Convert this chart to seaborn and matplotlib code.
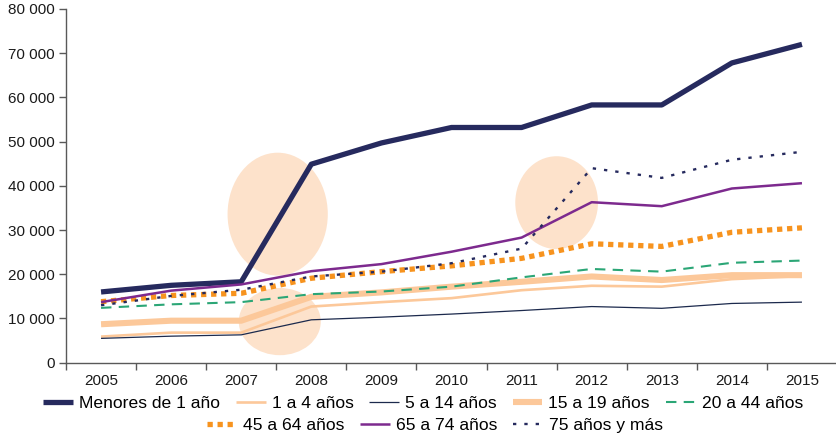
import matplotlib
matplotlib.use("Agg")
import matplotlib.pyplot as plt
import numpy as np
import pandas as pd
import seaborn as sns
from matplotlib.patches import Ellipse
from matplotlib.ticker import FixedLocator, FuncFormatter

years = list(range(2005, 2016))

menores_1 = [16000, 17500, 18300, 44900, 49700, 53200, 53200, 58300, 58300, 67800, 72000]
de_1_a_4 = [5900, 6800, 6800, 12700, 13700, 14600, 16400, 17400, 17200, 18900, 19600]
de_5_a_14 = [5500, 6000, 6300, 9700, 10300, 11000, 11800, 12700, 12300, 13400, 13700]
de_15_a_19 = [8700, 9500, 9500, 14900, 15900, 17200, 18300, 19500, 18700, 19800, 19800]
de_20_a_44 = [12400, 13200, 13700, 15500, 16100, 17200, 19300, 21200, 20600, 22600, 23100]
de_45_a_64 = [13800, 15200, 15700, 19100, 20600, 21900, 23600, 26900, 26300, 29500, 30500]
de_65_a_74 = [13700, 16300, 17700, 20700, 22300, 25100, 28300, 36300, 35400, 39400, 40600]
mas_75 = [13000, 15100, 16500, 19500, 20600, 22500, 25800, 44000, 41800, 45900, 47700]

series_names = [
    "Menores de 1 año", "1 a 4 años", "5 a 14 años", "15 a 19 años",
    "20 a 44 años", "45 a 64 años", "65 a 74 años", "75 años y más",
]
series_values = [
    menores_1, de_1_a_4, de_5_a_14, de_15_a_19,
    de_20_a_44, de_45_a_64, de_65_a_74, mas_75,
]

df = pd.DataFrame({"year": years})
for name, vals in zip(series_names, series_values):
    df[name] = vals

styles = {
    "Menores de 1 año": dict(color="#262a5e", lw=3.8, ls="-"),
    "1 a 4 años": dict(color="#fcc89a", lw=1.9, ls="-"),
    "5 a 14 años": dict(color="#1c2a4d", lw=0.9, ls="-"),
    "15 a 19 años": dict(color="#fcc89a", lw=4.4, ls="-"),
    "20 a 44 años": dict(color="#2ba676", lw=1.5, ls=(0, (5, 3.5))),
    "45 a 64 años": dict(color="#f7931e", lw=3.8, ls=(0, (1, 0.9))),
    "65 a 74 años": dict(color="#7d2a8e", lw=1.8, ls="-"),
    "75 años y más": dict(color="#262a5e", lw=1.7, ls=(0, (1.4, 3.4))),
}

plt.rcParams["font.family"] = ["Liberation Sans", "DejaVu Sans"]

fig = plt.figure(figsize=(8.37, 4.38), dpi=100)
ax = fig.add_axes([66 / 837, 1 - 362.7 / 438, 771 / 837, (362.7 - 9) / 438])

# highlight ellipses behind the lines
ell_color = "#fde2cb"
for (cx, cy, w, h) in [(2007.52, 33600, 1.43, 27800),
                       (2007.55, 9300, 1.17, 15200),
                       (2011.50, 36200, 1.18, 21000)]:
    ax.add_patch(Ellipse((cx, cy), w, h, facecolor=ell_color, edgecolor="none", zorder=1))

handles = []
for name in series_names:
    st = styles[name]
    sns.lineplot(data=df, x="year", y=name, ax=ax, color=st["color"],
                 linewidth=st["lw"], linestyle=st["ls"], label=name, zorder=3)
    line = ax.lines[-1]
    line.set_dash_capstyle("butt")
    line.set_solid_capstyle("butt")
    handles.append(line)

ax.set_xlim(2004.5, 2015.5)
ax.set_ylim(0, 80000)
ax.set_xlabel("")
ax.set_ylabel("")

ax.set_xticks(years)
ax.set_xticklabels([str(y) for y in years])
ax.xaxis.set_minor_locator(FixedLocator(np.arange(2004.5, 2016, 1.0)))
ax.tick_params(axis="x", which="major", length=0, pad=8, labelsize=11, labelcolor="#1a1a1a")
ax.tick_params(axis="x", which="minor", length=5, width=1, color="#595959", direction="out")
ax.set_yticks(range(0, 80001, 10000))
ax.yaxis.set_major_formatter(FuncFormatter(lambda v, p: f"{int(v):,}".replace(",", " ")))
ax.tick_params(axis="y", length=5, width=1, color="#595959", pad=3, labelsize=11, labelcolor="#1a1a1a")

for side in ["top", "right"]:
    ax.spines[side].set_visible(False)
for side in ["left", "bottom"]:
    ax.spines[side].set_color("#595959")
    ax.spines[side].set_linewidth(1)

if ax.get_legend():
    ax.get_legend().remove()

leg_kw = dict(frameon=False, fontsize=12.6, handlelength=1.7, handletextpad=0.35,
              columnspacing=0.9, borderaxespad=0, borderpad=0)
fig.legend(handles[:5], series_names[:5], ncol=5, loc="center",
           bbox_to_anchor=(423 / 837, 1 - 403 / 438), **leg_kw)
fig.legend(handles[5:], series_names[5:], ncol=3, loc="center",
           bbox_to_anchor=(435 / 837, 1 - 425 / 438), **leg_kw)

fig.savefig("out.png", dpi=100)
